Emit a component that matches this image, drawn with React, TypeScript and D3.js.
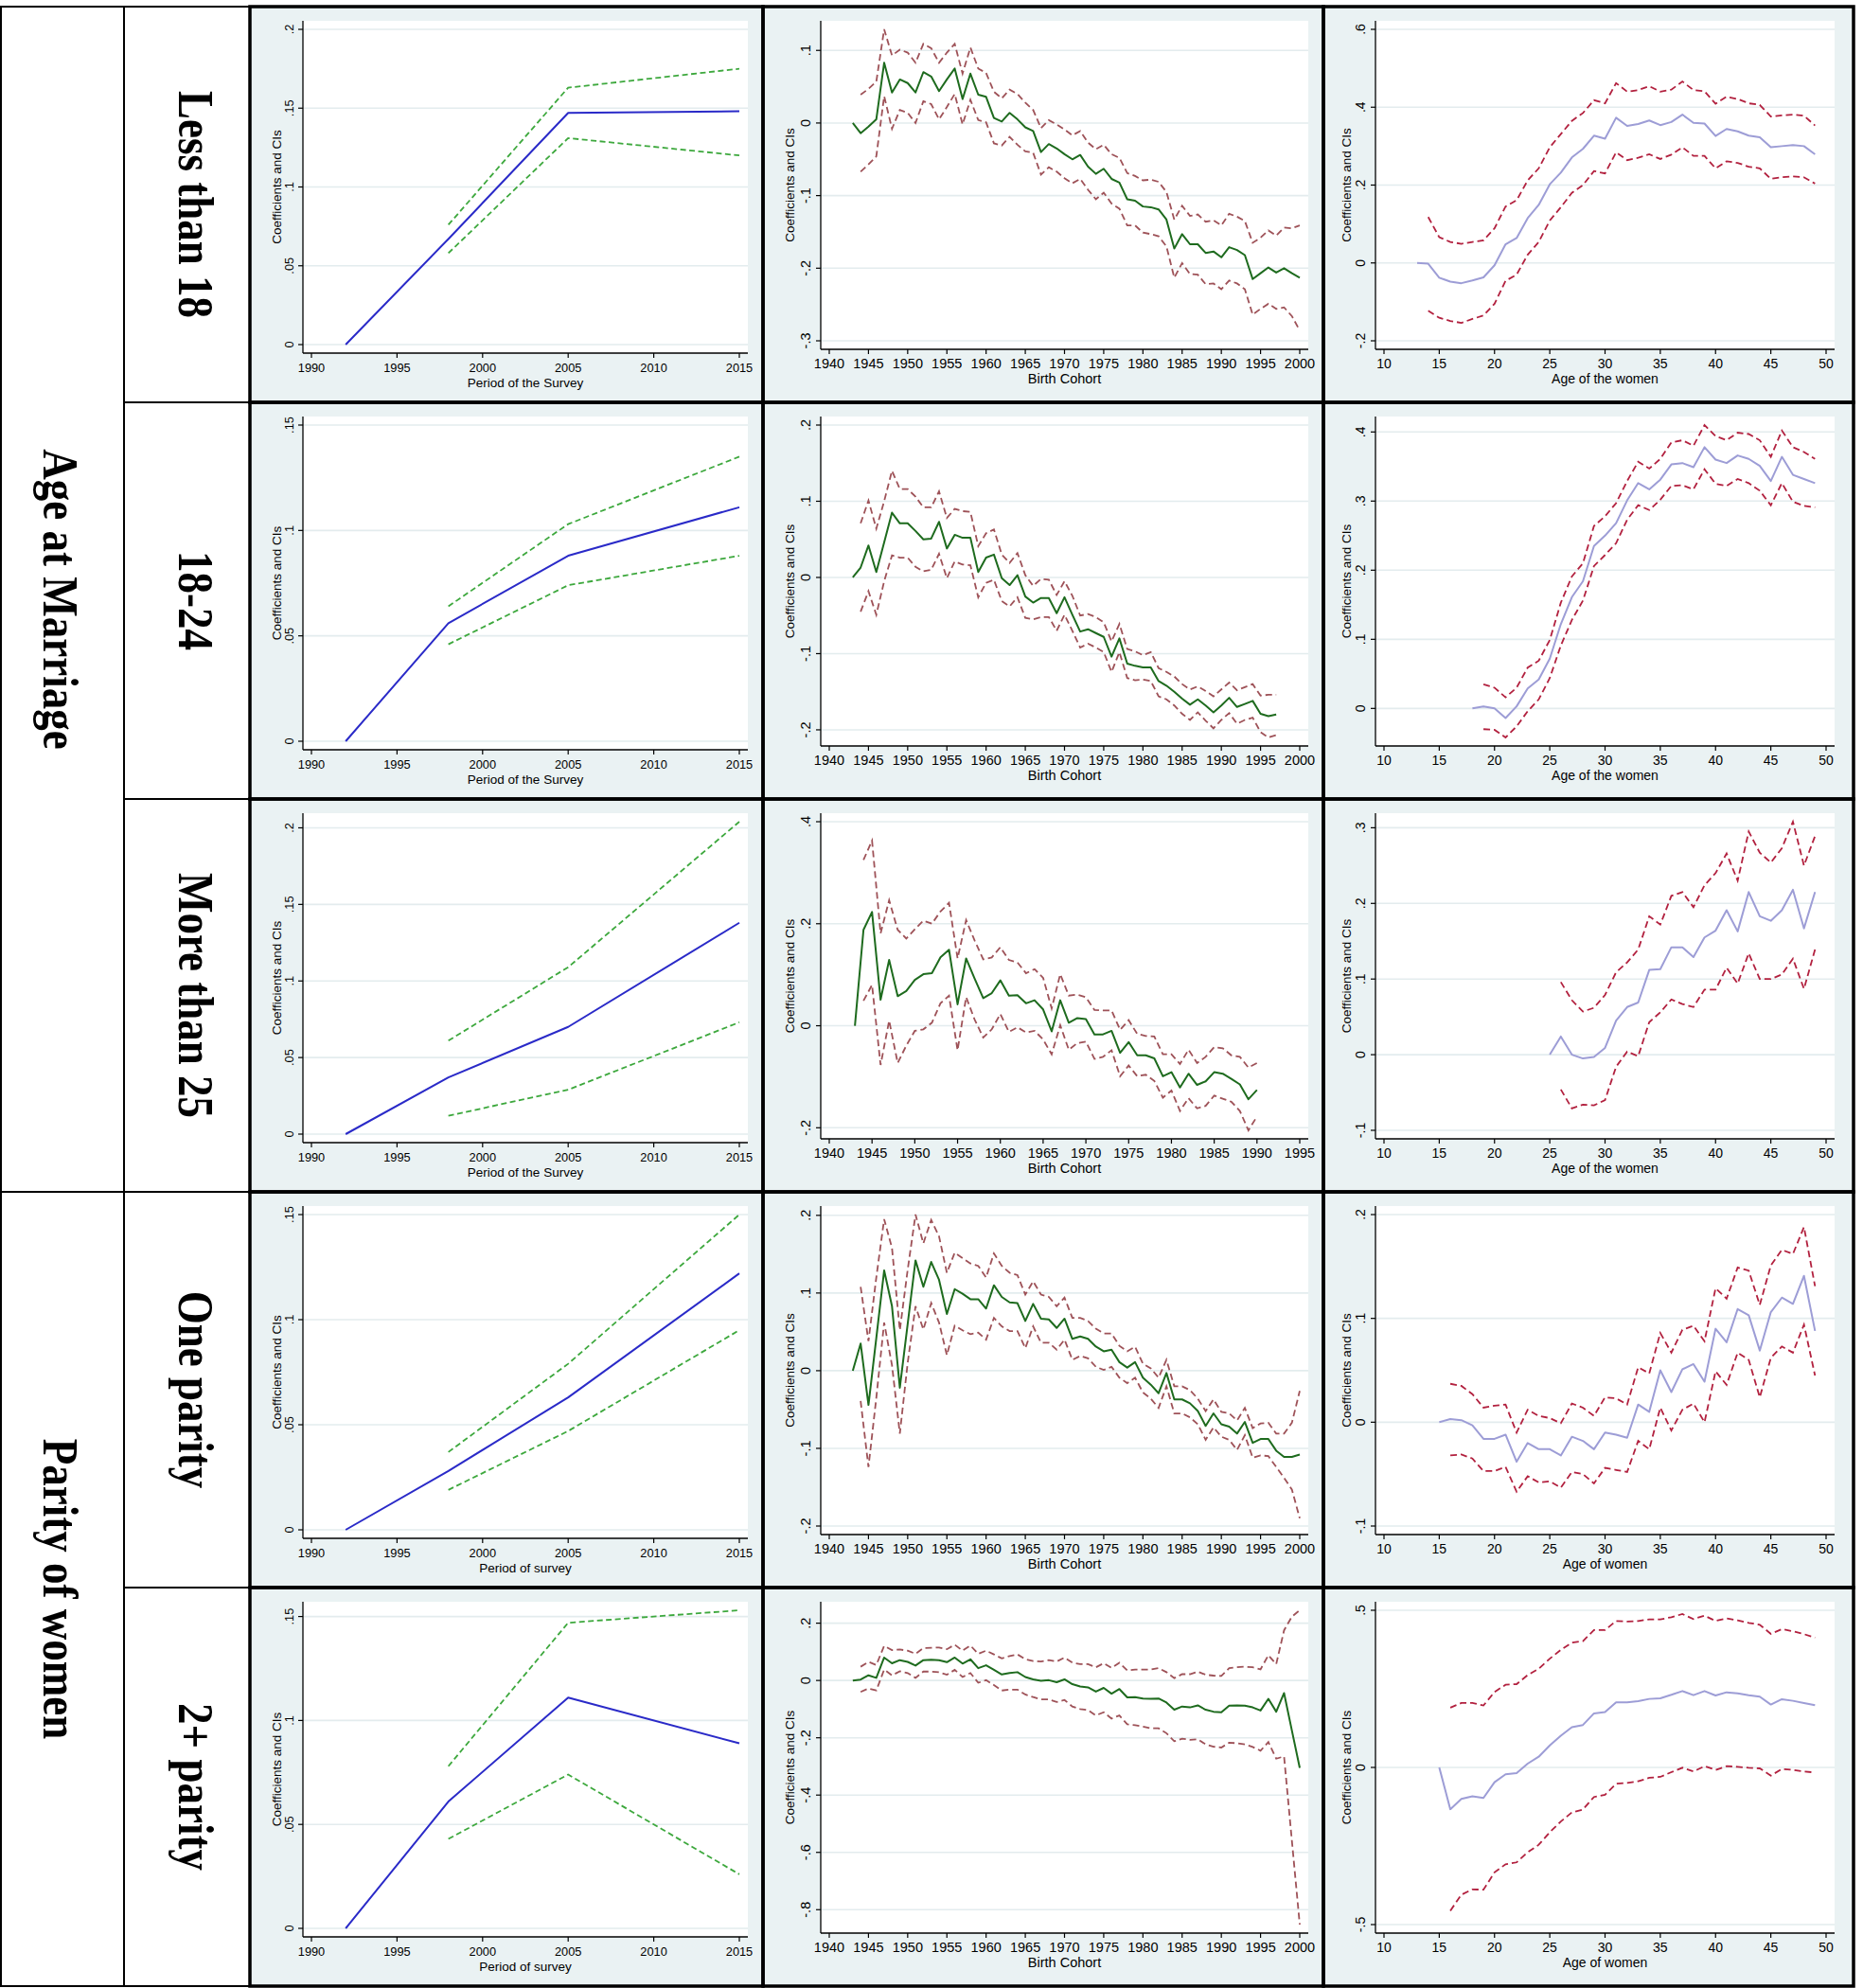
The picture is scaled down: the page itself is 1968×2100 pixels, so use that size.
import React from 'react';
import * as d3 from 'd3';

// ================= DATA =================
// Column 1: period of survey
const surveyYears = [1992, 1998, 2005, 2015];
const surveyCIYears = [1998, 2005, 2015];
const surveyXTicks = [1990, 1995, 2000, 2005, 2010, 2015];

const lt18SurveyCoef = [0, 0.067, 0.147, 0.148];
const lt18SurveyUpper = [0.076, 0.163, 0.175];
const lt18SurveyLower = [0.058, 0.131, 0.12];

const m1824SurveyCoef = [0, 0.056, 0.088, 0.111];
const m1824SurveyUpper = [0.064, 0.103, 0.135];
const m1824SurveyLower = [0.046, 0.074, 0.088];

const gt25SurveyCoef = [0, 0.037, 0.07, 0.138];
const gt25SurveyUpper = [0.061, 0.109, 0.204];
const gt25SurveyLower = [0.012, 0.029, 0.073];

const par1SurveyCoef = [0, 0.028, 0.063, 0.122];
const par1SurveyUpper = [0.037, 0.079, 0.15];
const par1SurveyLower = [0.019, 0.047, 0.095];

const par2SurveyCoef = [0, 0.061, 0.111, 0.089];
const par2SurveyUpper = [0.078, 0.147, 0.153];
const par2SurveyLower = [0.043, 0.074, 0.026];

// Column 2: birth cohort (coefficients start 1943, CIs start 1944)
const cohortStart = 1943;
const cohortCIStart = 1944;
const cohortXTicks = [1940, 1945, 1950, 1955, 1960, 1965, 1970, 1975, 1980, 1985, 1990, 1995, 2000];
const cohortXTicksShort = [1940, 1945, 1950, 1955, 1960, 1965, 1970, 1975, 1980, 1985, 1990, 1995];

const lt18CohortCoef = [0, -0.014, -0.005, 0.005, 0.083, 0.042, 0.060, 0.055, 0.042, 0.070,
  0.064, 0.044, 0.060, 0.075, 0.033, 0.068, 0.039, 0.036, 0.007, 0.002,
  0.014, 0.005, -0.006, -0.011, -0.040, -0.029, -0.035, -0.043, -0.050, -0.044,
  -0.060, -0.070, -0.063, -0.077, -0.082, -0.105, -0.107, -0.115, -0.116, -0.119,
  -0.133, -0.173, -0.153, -0.167, -0.167, -0.179, -0.177, -0.185, -0.171, -0.175,
  -0.182, -0.215, -0.207, -0.199, -0.206, -0.200, -0.207, -0.213];
const lt18CohortUpper = [0.039, 0.047, 0.057, 0.129, 0.093, 0.101, 0.097, 0.083, 0.109, 0.103,
  0.083, 0.097, 0.109, 0.068, 0.104, 0.075, 0.069, 0.043, 0.034, 0.046,
  0.040, 0.028, 0.018, -0.007, 0.004, -0.002, -0.009, -0.017, -0.011, -0.027,
  -0.036, -0.030, -0.043, -0.048, -0.069, -0.073, -0.079, -0.078, -0.081, -0.095,
  -0.133, -0.114, -0.128, -0.126, -0.136, -0.134, -0.141, -0.125, -0.129, -0.135,
  -0.165, -0.158, -0.148, -0.155, -0.144, -0.145, -0.141];
const lt18CohortLower = [-0.067, -0.057, -0.046, 0.037, -0.008, 0.018, 0.014, 0.000, 0.030, 0.026,
  0.005, 0.022, 0.040, -0.002, 0.032, 0.004, 0.001, -0.028, -0.031, -0.019,
  -0.030, -0.039, -0.041, -0.071, -0.061, -0.067, -0.076, -0.083, -0.077, -0.092,
  -0.105, -0.096, -0.111, -0.118, -0.141, -0.141, -0.151, -0.153, -0.156, -0.170,
  -0.213, -0.193, -0.208, -0.209, -0.222, -0.221, -0.229, -0.217, -0.221, -0.229,
  -0.264, -0.256, -0.249, -0.256, -0.254, -0.266, -0.286];

const m1824CohortCoef = [0, 0.013, 0.042, 0.007, 0.046, 0.085, 0.071, 0.071, 0.061, 0.050,
  0.051, 0.073, 0.038, 0.056, 0.052, 0.052, 0.007, 0.026, 0.030, -0.001,
  -0.010, 0.003, -0.025, -0.033, -0.027, -0.027, -0.047, -0.026, -0.049, -0.071,
  -0.068, -0.073, -0.078, -0.104, -0.080, -0.113, -0.116, -0.118, -0.118, -0.136,
  -0.142, -0.150, -0.159, -0.167, -0.160, -0.168, -0.177, -0.168, -0.158, -0.170,
  -0.166, -0.162, -0.179, -0.182, -0.180];
const m1824CohortUpper = [0.071, 0.101, 0.064, 0.100, 0.140, 0.116, 0.116, 0.106, 0.092, 0.092,
  0.113, 0.078, 0.090, 0.087, 0.086, 0.041, 0.058, 0.063, 0.030, 0.019,
  0.032, 0.003, -0.011, -0.002, -0.003, -0.023, -0.005, -0.024, -0.050, -0.048,
  -0.052, -0.059, -0.084, -0.061, -0.094, -0.097, -0.102, -0.098, -0.119, -0.124,
  -0.130, -0.140, -0.147, -0.143, -0.149, -0.156, -0.147, -0.138, -0.148, -0.144,
  -0.140, -0.155, -0.154, -0.154];
const m1824CohortLower = [-0.045, -0.018, -0.049, -0.005, 0.029, 0.026, 0.026, 0.014, 0.008, 0.010,
  0.031, -0.001, 0.021, 0.017, 0.016, -0.026, -0.007, -0.003, -0.031, -0.038,
  -0.026, -0.053, -0.055, -0.052, -0.052, -0.070, -0.049, -0.070, -0.092, -0.087,
  -0.092, -0.098, -0.124, -0.098, -0.132, -0.135, -0.134, -0.136, -0.156, -0.160,
  -0.168, -0.179, -0.187, -0.177, -0.188, -0.198, -0.187, -0.178, -0.192, -0.187,
  -0.184, -0.203, -0.210, -0.207];

const gt25CohortCoef = [0, 0.188, 0.223, 0.051, 0.129, 0.058, 0.068, 0.090, 0.101, 0.103,
  0.134, 0.149, 0.042, 0.132, 0.092, 0.054, 0.064, 0.089, 0.059, 0.060,
  0.044, 0.050, 0.032, -0.011, 0.050, 0.006, 0.015, 0.013, -0.017, -0.017,
  -0.010, -0.053, -0.032, -0.058, -0.058, -0.064, -0.099, -0.091, -0.121, -0.094,
  -0.116, -0.109, -0.091, -0.094, -0.104, -0.115, -0.144, -0.126];
const gt25CohortUpper = [0.325, 0.363, 0.181, 0.246, 0.188, 0.171, 0.189, 0.206, 0.200, 0.224,
  0.241, 0.132, 0.207, 0.167, 0.130, 0.134, 0.154, 0.129, 0.124, 0.103,
  0.111, 0.094, 0.034, 0.101, 0.059, 0.061, 0.056, 0.031, 0.030, 0.030,
  -0.008, 0.011, -0.016, -0.020, -0.021, -0.056, -0.056, -0.075, -0.047, -0.073,
  -0.061, -0.042, -0.044, -0.058, -0.061, -0.082, -0.073];
const gt25CohortLower = [0.049, 0.080, -0.077, 0.010, -0.073, -0.039, -0.010, -0.007, 0.006, 0.044,
  0.059, -0.048, 0.056, 0.012, -0.023, -0.007, 0.023, -0.012, -0.003, -0.013,
  -0.010, -0.027, -0.056, 0.001, -0.047, -0.034, -0.031, -0.065, -0.061, -0.048,
  -0.099, -0.078, -0.099, -0.096, -0.108, -0.141, -0.127, -0.167, -0.142, -0.162,
  -0.157, -0.137, -0.143, -0.149, -0.167, -0.205, -0.178];

const par1CohortCoef = [0, 0.035, -0.044, 0.042, 0.129, 0.083, -0.022, 0.060, 0.142, 0.108,
  0.140, 0.117, 0.073, 0.105, 0.099, 0.092, 0.092, 0.080, 0.110, 0.095,
  0.088, 0.087, 0.064, 0.086, 0.067, 0.066, 0.055, 0.067, 0.041, 0.044,
  0.041, 0.031, 0.025, 0.027, 0.011, 0.004, 0.011, -0.009, -0.018, -0.029,
  -0.003, -0.037, -0.037, -0.042, -0.052, -0.071, -0.055, -0.069, -0.072, -0.081,
  -0.066, -0.093, -0.088, -0.088, -0.103, -0.111, -0.111, -0.108];
const par1CohortUpper = [0.108, 0.038, 0.120, 0.195, 0.158, 0.052, 0.130, 0.201, 0.164, 0.194,
  0.173, 0.126, 0.152, 0.145, 0.138, 0.135, 0.120, 0.151, 0.135, 0.126,
  0.123, 0.098, 0.115, 0.098, 0.095, 0.083, 0.094, 0.068, 0.068, 0.064,
  0.054, 0.048, 0.048, 0.032, 0.025, 0.031, 0.009, 0.003, -0.009, 0.014,
  -0.020, -0.020, -0.025, -0.036, -0.052, -0.037, -0.053, -0.055, -0.064, -0.048,
  -0.074, -0.068, -0.067, -0.081, -0.081, -0.067, -0.026];
const par1CohortLower = [-0.039, -0.124, -0.035, 0.062, 0.007, -0.081, 0.010, 0.083, 0.053, 0.087,
  0.062, 0.020, 0.058, 0.052, 0.047, 0.049, 0.040, 0.068, 0.057, 0.051,
  0.051, 0.029, 0.057, 0.036, 0.036, 0.027, 0.040, 0.014, 0.019, 0.016,
  0.005, 0.001, 0.005, -0.009, -0.016, -0.009, -0.028, -0.036, -0.048, -0.020,
  -0.055, -0.055, -0.060, -0.069, -0.089, -0.073, -0.085, -0.089, -0.102, -0.083,
  -0.112, -0.109, -0.110, -0.124, -0.138, -0.153, -0.190];

const par2CohortCoef = [0, 0.003, 0.018, 0.009, 0.080, 0.060, 0.071, 0.065, 0.052, 0.071,
  0.072, 0.071, 0.064, 0.080, 0.059, 0.074, 0.043, 0.053, 0.037, 0.021,
  0.026, 0.029, 0.012, 0.004, -0.001, 0.001, -0.006, 0.004, -0.013, -0.021,
  -0.024, -0.039, -0.026, -0.046, -0.030, -0.059, -0.058, -0.063, -0.064, -0.063,
  -0.077, -0.102, -0.091, -0.094, -0.087, -0.102, -0.109, -0.111, -0.088, -0.087,
  -0.088, -0.094, -0.105, -0.064, -0.109, -0.044, -0.175, -0.305];
const par2CohortUpper = [0.048, 0.065, 0.054, 0.121, 0.106, 0.108, 0.104, 0.093, 0.113, 0.114,
  0.115, 0.109, 0.125, 0.104, 0.122, 0.093, 0.104, 0.091, 0.077, 0.085,
  0.091, 0.074, 0.068, 0.066, 0.071, 0.066, 0.080, 0.062, 0.057, 0.057,
  0.046, 0.060, 0.044, 0.062, 0.035, 0.038, 0.038, 0.038, 0.043, 0.029,
  0.008, 0.022, 0.022, 0.031, 0.020, 0.017, 0.016, 0.043, 0.046, 0.048,
  0.046, 0.039, 0.088, 0.057, 0.175, 0.223, 0.245];
const par2CohortLower = [-0.040, -0.028, -0.035, 0.038, 0.018, 0.032, 0.026, 0.009, 0.031, 0.031,
  0.029, 0.020, 0.037, 0.012, 0.026, -0.008, 0.001, -0.016, -0.035, -0.032,
  -0.032, -0.049, -0.058, -0.066, -0.066, -0.075, -0.068, -0.091, -0.100, -0.103,
  -0.122, -0.111, -0.133, -0.122, -0.153, -0.156, -0.161, -0.167, -0.167, -0.184,
  -0.212, -0.203, -0.207, -0.205, -0.223, -0.231, -0.234, -0.217, -0.219, -0.223,
  -0.232, -0.245, -0.215, -0.273, -0.265, -0.560, -0.852];

// Column 3: age of the women (CIs start one year after the coefficients)
const ageXTicks = [10, 15, 20, 25, 30, 35, 40, 45, 50];

const lt18AgeStart = 13;
const lt18AgeCoef = [0, -0.002, -0.038, -0.048, -0.052, -0.045, -0.037, -0.006, 0.048, 0.064,
  0.115, 0.149, 0.202, 0.232, 0.271, 0.293, 0.327, 0.319, 0.373, 0.352,
  0.357, 0.366, 0.354, 0.362, 0.381, 0.360, 0.358, 0.326, 0.344, 0.338,
  0.327, 0.323, 0.297, 0.300, 0.303, 0.300, 0.279];
const lt18AgeUpper = [0.118, 0.066, 0.054, 0.049, 0.054, 0.058, 0.089, 0.145, 0.161, 0.212,
  0.243, 0.297, 0.331, 0.365, 0.385, 0.418, 0.410, 0.462, 0.440, 0.444,
  0.454, 0.440, 0.445, 0.466, 0.444, 0.441, 0.409, 0.427, 0.421, 0.410,
  0.406, 0.376, 0.379, 0.381, 0.378, 0.353];
const lt18AgeLower = [-0.123, -0.141, -0.149, -0.154, -0.144, -0.135, -0.105, -0.046, -0.030, 0.021,
  0.054, 0.109, 0.143, 0.180, 0.200, 0.236, 0.230, 0.284, 0.264, 0.270,
  0.279, 0.267, 0.278, 0.297, 0.275, 0.275, 0.243, 0.261, 0.257, 0.247,
  0.243, 0.216, 0.220, 0.222, 0.220, 0.204];

const m1824AgeStart = 18;
const m1824AgeCoef = [0, 0.003, 0, -0.014, 0.003, 0.029, 0.042, 0.072, 0.122, 0.161,
  0.184, 0.235, 0.250, 0.268, 0.301, 0.326, 0.317, 0.331, 0.353, 0.355,
  0.349, 0.378, 0.360, 0.355, 0.366, 0.361, 0.351, 0.329, 0.364, 0.338,
  0.332, 0.326];
const m1824AgeUpper = [0.035, 0.030, 0.016, 0.030, 0.059, 0.069, 0.099, 0.153, 0.191, 0.210,
  0.264, 0.278, 0.297, 0.329, 0.357, 0.347, 0.361, 0.385, 0.388, 0.380,
  0.410, 0.394, 0.388, 0.399, 0.397, 0.388, 0.364, 0.402, 0.378, 0.371,
  0.361];
const m1824AgeLower = [-0.030, -0.031, -0.042, -0.026, -0.004, 0.013, 0.044, 0.091, 0.128, 0.156,
  0.206, 0.222, 0.239, 0.273, 0.294, 0.287, 0.302, 0.322, 0.323, 0.317,
  0.346, 0.325, 0.322, 0.332, 0.326, 0.315, 0.294, 0.326, 0.299, 0.293,
  0.291];

const gt25AgeStart = 25;
const gt25AgeCoef = [0, 0.024, 0, -0.005, -0.003, 0.009, 0.045, 0.063, 0.069, 0.112,
  0.113, 0.142, 0.142, 0.129, 0.155, 0.164, 0.191, 0.163, 0.215, 0.183,
  0.177, 0.191, 0.218, 0.167, 0.215];
const gt25AgeUpper = [0.096, 0.072, 0.057, 0.062, 0.079, 0.109, 0.122, 0.139, 0.183, 0.172,
  0.210, 0.215, 0.195, 0.224, 0.240, 0.266, 0.230, 0.295, 0.267, 0.254,
  0.273, 0.308, 0.250, 0.289];
const gt25AgeLower = [-0.046, -0.071, -0.066, -0.067, -0.060, -0.016, 0.004, -0.002, 0.043, 0.056,
  0.073, 0.067, 0.063, 0.086, 0.086, 0.115, 0.094, 0.134, 0.100, 0.100,
  0.106, 0.127, 0.087, 0.139];

const par1AgeStart = 15;
const par1AgeCoef = [0, 0.003, 0.002, -0.003, -0.016, -0.016, -0.012, -0.038, -0.020, -0.026,
  -0.026, -0.032, -0.014, -0.018, -0.026, -0.010, -0.012, -0.015, 0.017, 0.010,
  0.050, 0.029, 0.051, 0.056, 0.039, 0.090, 0.077, 0.109, 0.103, 0.069,
  0.106, 0.120, 0.114, 0.141, 0.088];
const par1AgeUpper = [0.037, 0.035, 0.027, 0.014, 0.016, 0.017, -0.010, 0.012, 0.006, 0.004,
  -0.001, 0.018, 0.014, 0.006, 0.024, 0.023, 0.017, 0.053, 0.047, 0.086,
  0.067, 0.089, 0.093, 0.078, 0.129, 0.119, 0.149, 0.146, 0.113, 0.151,
  0.166, 0.162, 0.188, 0.131];
const par1AgeLower = [-0.032, -0.031, -0.035, -0.047, -0.047, -0.043, -0.067, -0.052, -0.058, -0.057,
  -0.063, -0.048, -0.050, -0.059, -0.044, -0.046, -0.048, -0.018, -0.026, 0.014,
  -0.008, 0.012, 0.018, 0.000, 0.049, 0.036, 0.067, 0.060, 0.024, 0.062,
  0.073, 0.067, 0.094, 0.045];

const par2AgeStart = 15;
const par2AgeCoef = [0, -0.133, -0.100, -0.092, -0.097, -0.047, -0.022, -0.018, 0.012, 0.034,
  0.070, 0.101, 0.128, 0.135, 0.172, 0.176, 0.207, 0.207, 0.211, 0.218,
  0.220, 0.231, 0.243, 0.230, 0.243, 0.229, 0.239, 0.236, 0.230, 0.225,
  0.200, 0.217, 0.212, 0.205, 0.198];
const par2AgeUpper = [0.190, 0.205, 0.205, 0.197, 0.240, 0.263, 0.265, 0.294, 0.314, 0.346,
  0.374, 0.397, 0.402, 0.437, 0.437, 0.466, 0.464, 0.466, 0.471, 0.471,
  0.478, 0.488, 0.472, 0.483, 0.466, 0.474, 0.468, 0.460, 0.454, 0.425,
  0.440, 0.433, 0.424, 0.413];
const par2AgeLower = [-0.456, -0.405, -0.388, -0.389, -0.334, -0.308, -0.302, -0.270, -0.246, -0.206,
  -0.172, -0.143, -0.134, -0.094, -0.087, -0.052, -0.049, -0.044, -0.033, -0.030,
  -0.015, -0.001, -0.013, 0.004, -0.008, 0.004, 0.002, -0.001, -0.003, -0.026,
  -0.005, -0.008, -0.013, -0.016];

// Y ticks per panel
const yTicksSurvey = [[0, 0.05, 0.1, 0.15, 0.2], [0, 0.05, 0.1, 0.15], [0, 0.05, 0.1, 0.15, 0.2], [0, 0.05, 0.1, 0.15], [0, 0.05, 0.1, 0.15]];
const yTicksCohort = [[-0.3, -0.2, -0.1, 0, 0.1], [-0.2, -0.1, 0, 0.1, 0.2], [-0.2, 0, 0.2, 0.4], [-0.2, -0.1, 0, 0.1, 0.2], [-0.8, -0.6, -0.4, -0.2, 0, 0.2]];
const yTicksAge = [[-0.2, 0, 0.2, 0.4, 0.6], [0, 0.1, 0.2, 0.3, 0.4], [-0.1, 0, 0.1, 0.2, 0.3], [-0.1, 0, 0.1, 0.2], [-0.5, 0, 0.5]];

const rowLabels = ['Less than 18', '18-24', 'More than 25', 'One parity', '2+ parity'];
const groupLabels = ['Age at Marriage', 'Parity of women'];
const surveyTitles = ['Period of the Survey', 'Period of the Survey', 'Period of the Survey', 'Period of survey', 'Period of survey'];
const cohortTitle = 'Birth Cohort';
const ageTitles = ['Age of the women', 'Age of the women', 'Age of the women', 'Age of women', 'Age of women'];
const yTitle = 'Coefficients and CIs';

// ================= LAYOUT / STYLE =================
const W = 1968, H = 2100;
const colX: [number, number][] = [[264, 806], [806, 1398], [1398, 1958]];
const rowY: [number, number][] = [[7, 425], [425, 844], [844, 1259], [1259, 1677], [1677, 2098]];
const labelColA: [number, number] = [1, 131];
const labelColB: [number, number] = [131, 264];

const COL_STYLE = [
  { ml: 56, mr: 16, mt: 15, mb: 52, tickFs: 12.8, titleFs: 13.5, yTickOff: 10, yTitleOff: 23, coef: '#2a2ac8', ci: '#3da83d', dash: '6 3.5' },
  { ml: 61, mr: 16, mt: 15, mb: 56, tickFs: 14.5, titleFs: 14.5, yTickOff: 11.5, yTitleOff: 28, coef: '#1e6b1e', ci: '#9e5258', dash: '7 4' },
  { ml: 55, mr: 20, mt: 15, mb: 56, tickFs: 14, titleFs: 14, yTickOff: 11, yTitleOff: 26, coef: '#9d9dd6', ci: '#b2213f', dash: '7 4' },
];
const BG = '#eaf2f3';
const GRID = '#e3ecee';
const FONT = '"Liberation Sans", Arial, Helvetica, sans-serif';
const SERIF = '"Liberation Serif", "Times New Roman", serif';

const fmt = (v: number) => {
  if (Math.abs(v) < 1e-9) return '0';
  const s = Math.abs(v).toString().replace(/^0\./, '.');
  return (v < 0 ? '-' : '') + s;
};

type PanelDef = {
  col: number;
  coefX: number[];
  coef: number[];
  ciX: number[];
  upper: number[];
  lower: number[];
  xTicks: number[];
  yTicks: number[];
  xTitle: string;
};

const seq = (start: number, n: number) => d3.range(start, start + n);

const surveySets = [
  [lt18SurveyCoef, lt18SurveyUpper, lt18SurveyLower],
  [m1824SurveyCoef, m1824SurveyUpper, m1824SurveyLower],
  [gt25SurveyCoef, gt25SurveyUpper, gt25SurveyLower],
  [par1SurveyCoef, par1SurveyUpper, par1SurveyLower],
  [par2SurveyCoef, par2SurveyUpper, par2SurveyLower],
];
const cohortSets = [
  [lt18CohortCoef, lt18CohortUpper, lt18CohortLower],
  [m1824CohortCoef, m1824CohortUpper, m1824CohortLower],
  [gt25CohortCoef, gt25CohortUpper, gt25CohortLower],
  [par1CohortCoef, par1CohortUpper, par1CohortLower],
  [par2CohortCoef, par2CohortUpper, par2CohortLower],
];
const ageSets: [number, number[], number[], number[]][] = [
  [lt18AgeStart, lt18AgeCoef, lt18AgeUpper, lt18AgeLower],
  [m1824AgeStart, m1824AgeCoef, m1824AgeUpper, m1824AgeLower],
  [gt25AgeStart, gt25AgeCoef, gt25AgeUpper, gt25AgeLower],
  [par1AgeStart, par1AgeCoef, par1AgeUpper, par1AgeLower],
  [par2AgeStart, par2AgeCoef, par2AgeUpper, par2AgeLower],
];

const panels: PanelDef[][] = rowLabels.map((_, r) => {
  const [sc, su, sl] = surveySets[r];
  const [cc, cu, cl] = cohortSets[r];
  const [as, ac, au, al] = ageSets[r];
  return [
    { col: 0, coefX: surveyYears, coef: sc, ciX: surveyCIYears, upper: su, lower: sl, xTicks: surveyXTicks, yTicks: yTicksSurvey[r], xTitle: surveyTitles[r] },
    { col: 1, coefX: seq(cohortStart, cc.length), coef: cc, ciX: seq(cohortCIStart, cu.length), upper: cu, lower: cl, xTicks: r === 2 ? cohortXTicksShort : cohortXTicks, yTicks: yTicksCohort[r], xTitle: cohortTitle },
    { col: 2, coefX: seq(as, ac.length), coef: ac, ciX: seq(as + 1, au.length), upper: au, lower: al, xTicks: ageXTicks, yTicks: yTicksAge[r], xTitle: ageTitles[r] },
  ];
});

function Panel({ def, x0, x1, y0, y1 }: { def: PanelDef; x0: number; x1: number; y0: number; y1: number }) {
  const st = COL_STYLE[def.col];
  const pl = x0 + st.ml, pr = x1 - st.mr, pt = y0 + st.mt, pb = y1 - st.mb;
  const pad = 9;
  const xs = d3.extent([...def.coefX, ...def.xTicks]) as [number, number];
  const ys = d3.extent([...def.coef, ...def.upper, ...def.lower, ...def.yTicks]) as [number, number];
  const x = d3.scaleLinear().domain(xs).range([pl + pad, pr - pad]);
  const y = d3.scaleLinear().domain(ys).range([pb - pad, pt + pad]);
  const line = (xv: number[], yv: number[]) =>
    d3.line<number>().x((_, i) => x(xv[i])).y((d) => y(d))(yv) || '';
  const midY = (pt + pb) / 2;
  const midX = (pl + pr) / 2;
  return (
    <g>
      <rect x={x0} y={y0} width={x1 - x0} height={y1 - y0} fill={BG} />
      <rect x={pl} y={pt} width={pr - pl} height={pb - pt} fill="#ffffff" />
      {def.yTicks.map((t) => (
        <line key={'g' + t} x1={pl} x2={pr} y1={y(t)} y2={y(t)} stroke={GRID} strokeWidth={1.6} />
      ))}
      <path d={line(def.ciX, def.upper)} fill="none" stroke={st.ci} strokeWidth={1.8} strokeDasharray={st.dash} />
      <path d={line(def.ciX, def.lower)} fill="none" stroke={st.ci} strokeWidth={1.8} strokeDasharray={st.dash} />
      <path d={line(def.coefX, def.coef)} fill="none" stroke={st.coef} strokeWidth={2} strokeLinejoin="round" />
      <line x1={pl} x2={pl} y1={pt} y2={pb} stroke="#000" strokeWidth={1.3} />
      <line x1={pl} x2={pr} y1={pb} y2={pb} stroke="#000" strokeWidth={1.3} />
      {def.yTicks.map((t) => (
        <g key={'yt' + t}>
          <line x1={pl - 5} x2={pl} y1={y(t)} y2={y(t)} stroke="#000" strokeWidth={1.2} />
          <text transform={`translate(${pl - st.yTickOff},${y(t)}) rotate(-90)`} textAnchor="middle"
            fontFamily={FONT} fontSize={st.tickFs} fill="#000">{fmt(t)}</text>
        </g>
      ))}
      {def.xTicks.map((t) => (
        <g key={'xt' + t}>
          <line x1={x(t)} x2={x(t)} y1={pb} y2={pb + 5} stroke="#000" strokeWidth={1.2} />
          <text x={x(t)} y={pb + 20} textAnchor="middle" fontFamily={FONT} fontSize={st.tickFs} fill="#000">{t}</text>
        </g>
      ))}
      <text x={midX} y={pb + 36} textAnchor="middle" fontFamily={FONT} fontSize={st.titleFs} fill="#000">{def.xTitle}</text>
      <text transform={`translate(${pl - st.yTitleOff},${midY}) rotate(-90)`} textAnchor="middle"
        fontFamily={FONT} fontSize={13.5} fill="#000">{yTitle}</text>
    </g>
  );
}

function BigLabel({ cx, cy, text }: { cx: number; cy: number; text: string }) {
  return (
    <text transform={`translate(${cx},${cy}) rotate(90) scale(1,1.15)`} textAnchor="middle" dominantBaseline="central"
      fontFamily={SERIF} fontWeight="bold" fontSize={45} fill="#000">{text}</text>
  );
}

export default function App() {
  const groupSpans: [number, number][] = [[rowY[0][0], rowY[2][1]], [rowY[3][0], rowY[4][1]]];
  return (
    <svg width={W} height={H} style={{ position: 'absolute', left: 0, top: 0, background: '#fff' }}
      xmlns="http://www.w3.org/2000/svg">
      <rect x={0} y={0} width={W} height={H} fill="#fff" />
      {panels.map((row, r) =>
        row.map((def, c) => (
          <Panel key={`p${r}${c}`} def={def} x0={colX[c][0]} x1={colX[c][1]} y0={rowY[r][0]} y1={rowY[r][1]} />
        ))
      )}
      {/* group label column */}
      {groupSpans.map(([a, b], i) => (
        <g key={'grp' + i}>
          <rect x={labelColA[0]} y={a} width={labelColA[1] - labelColA[0]} height={b - a} fill="none" stroke="#000" strokeWidth={2} />
          <BigLabel cx={(labelColA[0] + labelColA[1]) / 2 - 2} cy={(a + b) / 2} text={groupLabels[i]} />
        </g>
      ))}
      {/* row label column */}
      {rowY.map(([a, b], r) => (
        <g key={'rl' + r}>
          <rect x={labelColB[0]} y={a} width={labelColB[1] - labelColB[0]} height={b - a} fill="none" stroke="#000" strokeWidth={2} />
          <BigLabel cx={(labelColB[0] + labelColB[1]) / 2 + 9} cy={(a + b) / 2} text={rowLabels[r]} />
        </g>
      ))}
      {/* panel borders */}
      {rowY.map(([a, b], r) =>
        colX.map(([l, rr], c) => (
          <rect key={`b${r}${c}`} x={l} y={a} width={rr - l} height={b - a} fill="none" stroke="#000" strokeWidth={3.5} />
        ))
      )}
    </svg>
  );
}
